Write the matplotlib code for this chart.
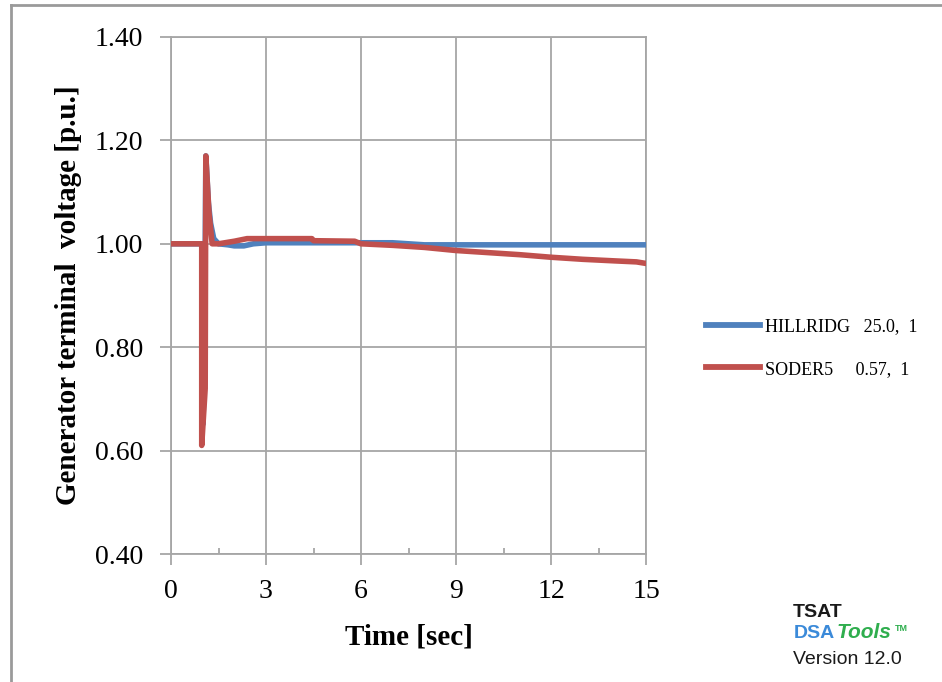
import matplotlib
matplotlib.use("Agg")
import matplotlib.pyplot as plt
from matplotlib.lines import Line2D

# ---- data ----
hill_t = [0.0, 1.0, 1.0, 1.05, 1.1, 1.18, 1.25, 1.35, 1.5, 1.8, 2.0, 2.3, 2.6, 3.0, 5.0, 7.0, 7.5, 8.0, 10.0, 12.0, 15.0]
hill_v = [1.0, 1.0, 0.65, 0.72, 1.17, 1.08, 1.04, 1.01, 1.0, 0.998, 0.996, 0.996, 1.0, 1.002, 1.002, 1.002, 1.0, 0.998, 0.998, 0.998, 0.998]

soder_t = [0.0, 0.97, 0.97, 1.08, 1.1, 1.2, 1.3, 1.5, 2.0, 2.4, 3.0, 4.45, 4.5, 5.8, 6.0, 7.0, 8.0, 9.0, 10.0, 11.0, 12.0, 13.0, 14.0, 14.7, 15.0]
soder_v = [1.0, 1.0, 0.61, 0.72, 1.17, 1.06, 1.0, 1.0, 1.005, 1.01, 1.01, 1.01, 1.006, 1.005, 1.0, 0.997, 0.993, 0.987, 0.983, 0.979, 0.974, 0.970, 0.967, 0.965, 0.962]

series_names = ["HILLRIDG   25.0,  1", "SODER5     0.57,  1"]
x_ticks = [0, 3, 6, 9, 12, 15]
y_ticks = [0.40, 0.60, 0.80, 1.00, 1.20, 1.40]

blue = "#4F81BD"
red = "#C0504D"
gridc = "#a6a6a6"

W, H = 942, 682
fig = plt.figure(figsize=(W / 100, H / 100), dpi=100)
ax = fig.add_axes([171 / W, 1 - 554 / H, (646 - 171) / W, (554 - 37) / H])

ax.plot(hill_t, hill_v, color=blue, lw=4.0, solid_joinstyle="round", solid_capstyle="round", zorder=3, label=series_names[0])
ax.plot(soder_t, soder_v, color=red, lw=4.0, solid_joinstyle="round", solid_capstyle="round", zorder=4, label=series_names[1])

ax.set_xlim(0, 15)
ax.set_ylim(0.4, 1.4)
ax.set_xticks(x_ticks)
ax.set_xticks([1.5, 4.5, 7.5, 10.5, 13.5], minor=True)
ax.set_yticks(y_ticks)
ax.set_yticklabels([f"{v:.2f}" for v in y_ticks])
ax.grid(True, which="major", color=gridc, lw=1.3)
for s in ax.spines.values():
    s.set_color(gridc)
    s.set_linewidth(1.3)

serif = "Liberation Serif"
ax.tick_params(axis="both", which="major", direction="out", length=8, width=1.3, color=gridc,
               labelsize=20, labelfontfamily=serif)
ax.tick_params(axis="x", which="major", pad=10)
ax.tick_params(axis="y", which="major", pad=12)
ax.tick_params(axis="x", which="minor", direction="in", length=4, width=1.3, color=gridc)

ax.set_xlabel("Time [sec]", fontsize=21, fontweight="bold", family=serif)
ax.set_ylabel("Generator terminal  voltage [p.u.]", fontsize=21, fontweight="bold", family=serif)
ax.xaxis.set_label_coords(0.5, -0.135)
ax.yaxis.set_label_coords(-0.187, 0.5)

handles = [Line2D([], [], color=blue, lw=4.2), Line2D([], [], color=red, lw=4.2)]
fig.legend(handles, series_names, loc="center left", bbox_to_anchor=(690 / W, 1 - 348 / H),
           frameon=False, prop={"family": serif, "size": 13}, handlelength=3.0,
           handletextpad=0.25, labelspacing=1.4)

# outer frame lines (top and left)
fig.add_artist(Line2D([11 / W, 1.0], [1 - 5 / H, 1 - 5 / H], color="#9a9a9a", lw=2, transform=fig.transFigure))
fig.add_artist(Line2D([11 / W, 11 / W], [0, 1 - 5 / H], color="#9a9a9a", lw=2, transform=fig.transFigure))

sans = "Liberation Sans"
fig.text(793 / W, 1 - 617 / H, "TSAT", fontsize=14, fontweight="bold", family=sans, color="#1a1a1a", va="baseline")
fig.text(794 / W, 1 - 638 / H, "DSA", fontsize=14, fontweight="bold", family=sans, color="#3b8ad9", va="baseline")
fig.text(837 / W, 1 - 638 / H, "Tools", fontsize=15, fontweight="bold", style="italic", family=sans, color="#2fae4e", va="baseline")
fig.text(895 / W, 1 - 624 / H, "TM", fontsize=6.5, fontweight="bold", family=sans, color="#2fae4e", va="top")
fig.text(793 / W, 1 - 664 / H, "Version 12.0", fontsize=14, family=sans, color="#1a1a1a", va="baseline")

fig.savefig("out.png", dpi=100)
